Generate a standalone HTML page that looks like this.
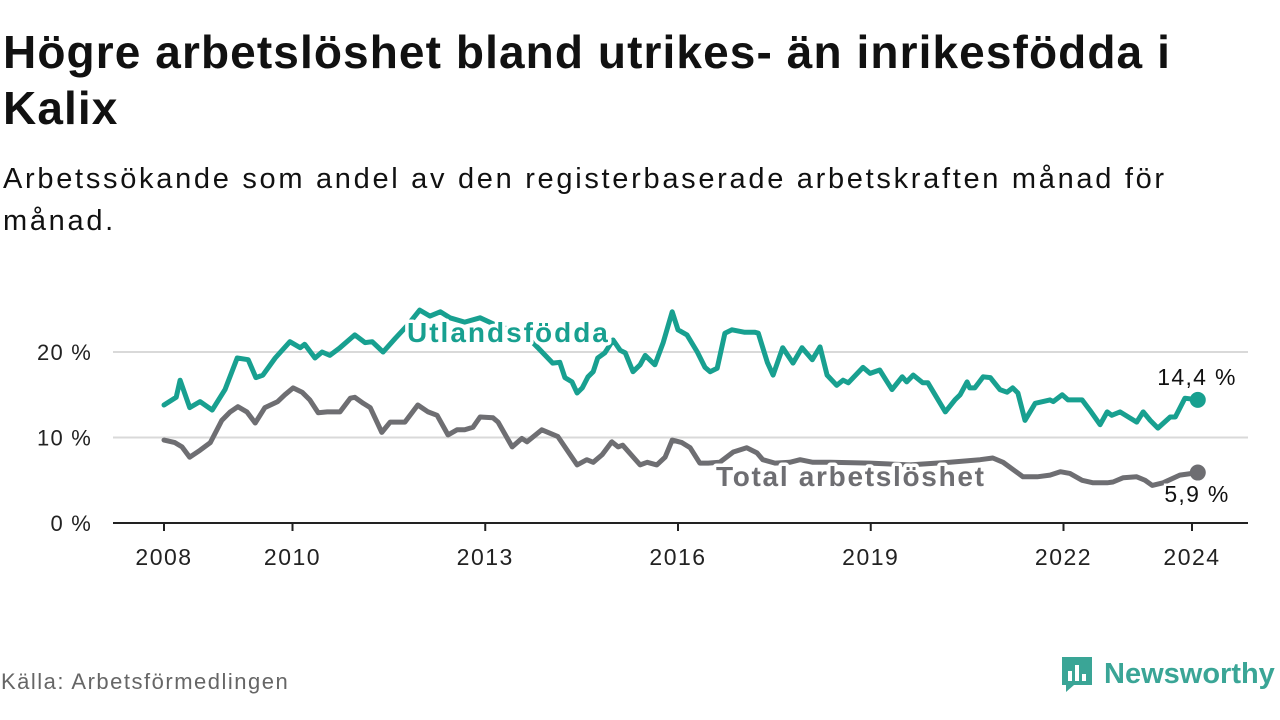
<!DOCTYPE html>
<html><head><meta charset="utf-8"><style>
body{margin:0;width:1280px;height:720px;background:#fff;overflow:hidden;font-family:"Liberation Sans","DejaVu Sans",sans-serif;color:#111}
h1{position:absolute;left:3px;top:24px;margin:0;font-size:46px;line-height:56px;font-weight:bold;width:1235px;letter-spacing:1.1px}
.sub{position:absolute;left:3px;top:158px;font-size:29px;line-height:42px;width:1200px;letter-spacing:2.7px}
.src{position:absolute;left:1px;top:669px;font-size:22px;color:#666;letter-spacing:1.5px}
.logo{position:absolute;left:1060px;top:655px;display:flex;align-items:center;font-size:29px;font-weight:bold;color:#3aa596}
</style></head><body>
<h1>Högre arbetslöshet bland utrikes- än inrikesfödda i Kalix</h1>
<div class="sub">Arbetssökande som andel av den registerbaserade arbetskraften månad för månad.</div>
<svg id="chart" width="1280" height="720" style="position:absolute;left:0;top:0"></svg>
<div class="src">Källa: Arbetsförmedlingen</div>
<div class="logo"><svg width="34" height="38" viewBox="0 0 34 38"><path d="M2 2h30v28H14l-8 7v-7H2z" fill="#3aa596"/><rect x="8" y="16" width="4" height="10" fill="#fff"/><rect x="15" y="10" width="4" height="16" fill="#fff"/><rect x="22" y="19" width="4" height="7" fill="#fff"/></svg><span style="margin-left:10px">Newsworthy</span></div>
<script>
const yTicks=[0,10,20];
const yTickLabels=["0 %","10 %","20 %"];
const xTicks=[2008,2010,2013,2016,2019,2022,2024];
const utlDates=[2008.00,2008.19,2008.25,2008.40,2008.56,2008.75,2008.95,2009.14,2009.31,2009.43,2009.54,2009.73,2009.96,2010.12,2010.19,2010.35,2010.46,2010.58,2010.74,2010.97,2011.13,2011.24,2011.41,2011.60,2011.80,2011.98,2012.14,2012.30,2012.45,2012.68,2012.92,2013.15,2013.39,2013.62,2013.82,2014.05,2014.16,2014.24,2014.35,2014.43,2014.51,2014.60,2014.68,2014.75,2014.86,2014.99,2015.10,2015.18,2015.30,2015.41,2015.49,2015.64,2015.77,2015.91,2016.00,2016.14,2016.30,2016.42,2016.50,2016.61,2016.73,2016.84,2017.04,2017.20,2017.25,2017.39,2017.48,2017.63,2017.79,2017.93,2018.09,2018.21,2018.32,2018.47,2018.57,2018.65,2018.88,2018.99,2019.14,2019.33,2019.49,2019.56,2019.66,2019.81,2019.89,2020.16,2020.31,2020.39,2020.50,2020.54,2020.62,2020.75,2020.86,2021.01,2021.12,2021.21,2021.29,2021.40,2021.56,2021.68,2021.79,2021.84,2021.98,2022.07,2022.29,2022.41,2022.57,2022.68,2022.75,2022.88,2023.14,2023.24,2023.35,2023.47,2023.66,2023.74,2023.89,2024.09];
const utlValues=[13.8,14.7,16.7,13.5,14.2,13.2,15.6,19.3,19.1,17.0,17.3,19.3,21.2,20.5,20.9,19.3,20.0,19.6,20.5,22.0,21.1,21.2,20.0,21.6,23.2,24.9,24.2,24.7,24.0,23.5,24.0,23.2,22.6,22.0,20.5,18.7,18.8,17.0,16.5,15.2,15.8,17.1,17.7,19.3,19.9,21.4,20.2,19.9,17.7,18.5,19.6,18.5,21.1,24.7,22.6,22.0,20.0,18.2,17.7,18.1,22.2,22.6,22.3,22.3,22.2,18.8,17.3,20.5,18.7,20.5,19.1,20.6,17.3,16.1,16.7,16.4,18.2,17.5,17.9,15.6,17.1,16.5,17.3,16.4,16.4,13.0,14.4,15.0,16.5,15.8,15.8,17.1,17.0,15.6,15.3,15.8,15.2,12.0,14.0,14.2,14.4,14.2,15.0,14.4,14.4,13.2,11.5,13.0,12.6,13.0,11.8,13.0,12.0,11.1,12.4,12.4,14.6,14.4];
const totDates=[2008.00,2008.17,2008.28,2008.40,2008.56,2008.72,2008.90,2009.03,2009.15,2009.29,2009.42,2009.57,2009.77,2009.88,2010.01,2010.15,2010.27,2010.40,2010.54,2010.74,2010.90,2010.97,2011.10,2011.21,2011.39,2011.52,2011.75,2011.95,2012.11,2012.25,2012.42,2012.56,2012.68,2012.81,2012.92,2013.12,2013.20,2013.42,2013.57,2013.65,2013.88,2014.13,2014.43,2014.58,2014.68,2014.82,2014.97,2015.07,2015.14,2015.41,2015.52,2015.67,2015.80,2015.91,2016.06,2016.19,2016.34,2016.47,2016.65,2016.86,2017.07,2017.23,2017.32,2017.51,2017.74,2017.90,2018.10,2018.37,2018.99,2019.61,2020.23,2020.70,2020.90,2021.06,2021.37,2021.59,2021.79,2021.95,2022.10,2022.29,2022.46,2022.68,2022.77,2022.93,2023.14,2023.27,2023.38,2023.55,2023.81,2024.09];
const totValues=[9.7,9.4,8.9,7.7,8.5,9.4,12.0,13.0,13.6,13.0,11.7,13.5,14.2,15.0,15.8,15.3,14.4,12.9,13.0,13.0,14.6,14.7,14.0,13.5,10.6,11.8,11.8,13.8,13.0,12.6,10.3,10.9,10.9,11.2,12.4,12.3,11.8,8.9,9.9,9.5,10.9,10.1,6.8,7.4,7.1,8.0,9.5,8.9,9.1,6.8,7.1,6.8,7.7,9.7,9.4,8.8,7.0,7.0,7.1,8.3,8.8,8.2,7.4,7.0,7.1,7.4,7.1,7.1,7.0,6.8,7.1,7.4,7.6,7.1,5.4,5.4,5.6,6.0,5.8,5.0,4.7,4.7,4.8,5.3,5.4,5.0,4.4,4.7,5.6,5.9];
const NS="http://www.w3.org/2000/svg";
const svg=document.getElementById('chart');
const X=d=>164+(d-2008)*64.25;
const Y=v=>523-v*8.55;
function mk(t,a){const e=document.createElementNS(NS,t);for(const k in a)e.setAttribute(k,a[k]);svg.appendChild(e);return e;}
yTicks.forEach((t,i)=>{
  if(t>0){const g=mk('line',{x1:113,x2:1248,y1:Y(t),y2:Y(t),stroke:'#d9d9d9','stroke-width':2});
  
  }
  const l=mk('text',{x:92,y:Y(t)+8,'text-anchor':'end','font-size':22,fill:'#222','letter-spacing':1.2});
  l.textContent=yTickLabels[i];
  
  
});
const ax=mk('line',{x1:113,x2:1248,y1:523,y2:523,stroke:'#222','stroke-width':2});


xTicks.forEach(t=>{
  const tk=mk('line',{x1:X(t),x2:X(t),y1:523,y2:531,stroke:'#222','stroke-width':2});
  
  
  const l=mk('text',{x:X(t),y:565,'text-anchor':'middle','font-size':23,fill:'#222','letter-spacing':1.5});
  l.textContent=t;
  
  
});
function series(dates,vals,color,name){
  const d=dates.map((t,i)=>(i?'L':'M')+X(t).toFixed(1)+','+Y(vals[i]).toFixed(1)).join('');
  const p=mk('path',{d:d,fill:'none',stroke:color,'stroke-width':5,'stroke-linejoin':'round','stroke-linecap':'round'});
  
  
  const n=dates.length-1;
  const c=mk('circle',{cx:X(dates[n]),cy:Y(vals[n]),r:8,fill:color});
  
  
}
series(totDates,totValues,'#6e6e72','total');
series(utlDates,utlValues,'#18a090','utlandsfodda');
function lab(txt,x,y,color,ls,name){
  const t=mk('text',{x:x,y:y,'font-size':28,'font-weight':'bold',fill:color,stroke:'#fff','stroke-width':7,'paint-order':'stroke','stroke-linejoin':'round','letter-spacing':ls});
  t.textContent=txt;
  
  
}
lab('Utlandsfödda',407,342,'#18a090',2,'utlandsfodda-label');
lab('Total arbetslöshet',716,486,'#6e6e72',1.7,'total-label');
const e1=mk('text',{x:1197,y:385,'text-anchor':'middle','font-size':23,fill:'#111','letter-spacing':1.3});
e1.textContent='14,4 %';


const e2=mk('text',{x:1197,y:502,'text-anchor':'middle','font-size':23,fill:'#111',stroke:'#fff','stroke-width':5,'paint-order':'stroke','letter-spacing':1.3});
e2.textContent='5,9 %';


</script>
</body></html>
